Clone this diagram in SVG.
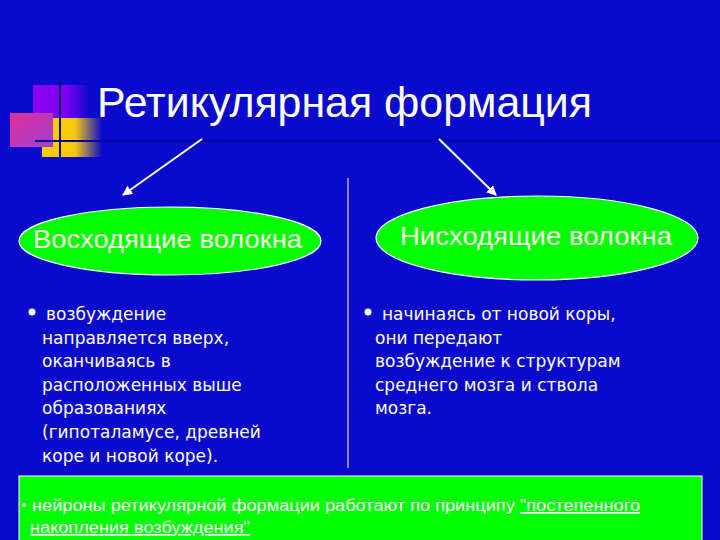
<svg xmlns="http://www.w3.org/2000/svg" width="720" height="540" viewBox="0 0 720 540">
<defs>
<linearGradient id="gPurple" x1="0" y1="0" x2="1" y2="0"><stop offset="0" stop-color="#9000F0"/><stop offset="0.6" stop-color="#7A00F4"/><stop offset="1" stop-color="#0A0ACC"/></linearGradient>
<linearGradient id="gPink" x1="0" y1="0" x2="1" y2="1"><stop offset="0" stop-color="#E0309A"/><stop offset="1" stop-color="#A040D0"/></linearGradient>
<linearGradient id="gYellow" x1="0" y1="0" x2="1" y2="0"><stop offset="0" stop-color="#FFCC00"/><stop offset="0.55" stop-color="#F8C810"/><stop offset="1" stop-color="#0A0ACC"/></linearGradient>
<marker id="ah" viewBox="0 0 10 10" refX="9" refY="5" markerWidth="5" markerHeight="5" orient="auto"><path d="M0,0 L10,5 L0,10 z" fill="#fff"/></marker>
<style>
.t{font-family:"DejaVu Sans",Verdana,sans-serif;font-size:17px;fill:#fff}
.h{font-family:"Liberation Sans",Arial,sans-serif;fill:#fff}
.y{fill:#FFFFE8}
.e{fill:#00FF00;stroke:#fff;stroke-width:1.2}
.c{stroke:#fff;stroke-width:2;fill:none;marker-end:url(#ah)}
</style>
</defs>
<rect width="720" height="540" fill="#0A0ACC"/>
<g id="decor">
<rect x="33" y="85" width="57" height="53" fill="url(#gPurple)"/>
<rect x="42" y="118" width="60" height="39" fill="url(#gYellow)"/>
<rect x="10" y="113" width="43" height="34" fill="url(#gPink)"/>
<line x1="60" y1="81" x2="60" y2="157" stroke="#101060" stroke-width="2"/>
<line x1="35" y1="141" x2="720" y2="141" stroke="#08089A" stroke-width="2"/>
</g>
<g id="title"><text class="h" x="97" y="117" font-size="43" textLength="495" lengthAdjust="spacingAndGlyphs">Ретикулярная формация</text></g>
<g id="connectors">
<line class="c" x1="202" y1="139" x2="123" y2="195"/>
<line class="c" x1="439" y1="139" x2="496" y2="195"/>
<line x1="348" y1="178" x2="348" y2="468" stroke="#fff" stroke-width="1"/>
</g>
<g id="ascending">
<ellipse class="e" cx="170" cy="241" rx="151" ry="34"/>
<text class="h y" x="33" y="248" font-size="25" textLength="269" lengthAdjust="spacingAndGlyphs">Восходящие волокна</text>
</g>
<g id="descending">
<ellipse class="e" cx="537" cy="238" rx="161" ry="42"/>
<text class="h y" x="400" y="245" font-size="25" textLength="272" lengthAdjust="spacingAndGlyphs">Нисходящие волокна</text>
</g>
<g id="leftText">
<circle cx="32" cy="312" r="3.5" fill="#fff"/>
<text class="t" x="46" y="320">возбуждение</text>
<text class="t" x="42" y="344">направляется вверх,</text>
<text class="t" x="42" y="367">оканчиваясь в</text>
<text class="t" x="42" y="391">расположенных выше</text>
<text class="t" x="42" y="414">образованиях</text>
<text class="t" x="42" y="438">(гипоталамусе, древней</text>
<text class="t" x="42" y="462">коре и новой коре).</text>
</g>
<g id="rightText">
<circle cx="368" cy="312" r="3.5" fill="#fff"/>
<text class="t" x="382" y="320">начинаясь от новой коры,</text>
<text class="t" x="375" y="344">они передают</text>
<text class="t" x="375" y="367">возбуждение к структурам</text>
<text class="t" x="375" y="391">среднего мозга и ствола</text>
<text class="t" x="375" y="414">мозга.</text>
</g>
<g id="note">
<rect x="19" y="476" width="683" height="70" fill="#00FF00" stroke="#fff" stroke-width="1"/>
<circle cx="24" cy="505" r="2" fill="#fff"/>
<text class="h" x="32" y="511" font-size="16" textLength="608" lengthAdjust="spacingAndGlyphs">нейроны ретикулярной формации работают по принципу <tspan text-decoration="underline">"постепенного</tspan></text>
<text class="h" x="30" y="533" font-size="16" text-decoration="underline" textLength="220" lengthAdjust="spacingAndGlyphs"> накопления возбуждения"</text>
</g>
</svg>
